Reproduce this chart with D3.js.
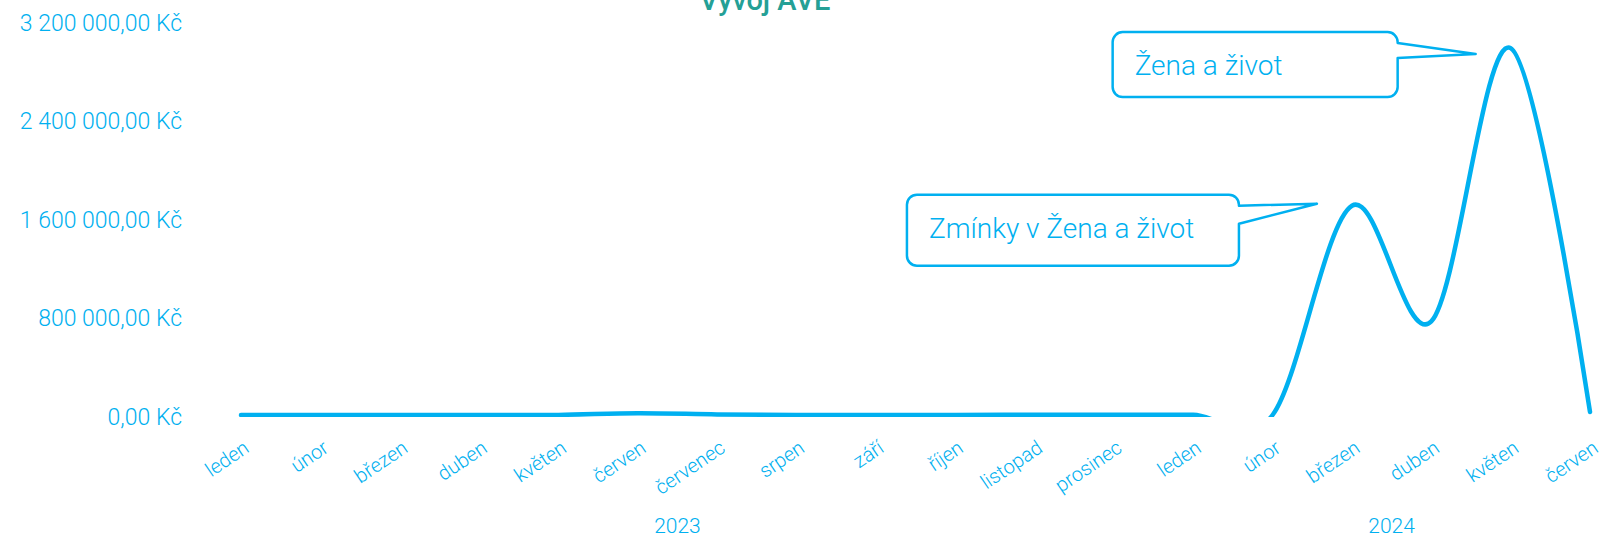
<!DOCTYPE html>
<html>
<head>
<meta charset="utf-8">
<script src="https://cdn.jsdelivr.net/npm/d3@7"></script>
<style>
  body { margin: 0; background: #fff; }
  text { font-family: Roboto, "Open Sans", sans-serif; }
</style>
</head>
<body>
<script>
const width = 1601,
      height = 541;

// months on the x axis (2023 + first half of 2024)
const months = ["leden", "únor", "březen", "duben", "květen", "červen", "červenec", "srpen",
                "září", "říjen", "listopad", "prosinec",
                "leden", "únor", "březen", "duben", "květen", "červen"];
const years = ["2023", "2024"];
const yearFirst = [0, 12];
const yearLast = [11, 17];

// AVE in Kč per month
const ave = [0, 0, 0, 0, 1000, 14000, 5000, 1000, 0, 0, 2000, 3000,
             2000, 0, 1700000, 760000, 2980000, 25000];

const yTicks = [0, 800000, 1600000, 2400000, 3200000];

// callouts
const calloutText = ["Zmínky v Žena a život", "Žena a život"];
const calloutIndex = [14, 16];

const blue = "#00b0f0";

const svg = d3.select("body")
    .append("svg")
    .attr("width", width)
    .attr("height", height);

const x = d3.scalePoint()
    .domain(d3.range(months.length))
    .range([241, 1590]);

const y = d3.scaleLinear()
    .domain([0, 3200000])
    .range([415, 21]);

const cz = d3.formatLocale({decimal: ",", thousands: " ", grouping: [3], currency: ["", " Kč"]});
const fmt = cz.format(",.2f");

// title (sits half off the top edge)
svg.append("text")
    .attr("x", 765)
    .attr("y", 10)
    .attr("text-anchor", "middle")
    .attr("fill", "#24a096")
    .attr("font-size", 29)
    .attr("font-weight", 500)
    .text("Vývoj AVE");

// y axis
const yAxis = svg.append("g")
    .attr("transform", "translate(190,0)")
    .call(d3.axisLeft(y)
      .tickValues(yTicks)
      .tickSize(0)
      .tickPadding(8)
      .tickFormat(d => fmt(d) + " Kč"));
yAxis.select(".domain").remove();
yAxis.selectAll("text")
    .attr("fill", blue)
    .attr("font-size", 23)
    .attr("font-weight", 300)
    .attr("dy", "0.4em")
    .style("font-family", "Roboto");

// x axis
const xAxis = svg.append("g")
    .attr("transform", "translate(0,415)")
    .call(d3.axisBottom(x)
      .tickSize(0)
      .tickFormat(i => months[i]));
xAxis.select(".domain").remove();
xAxis.selectAll("text")
    .attr("fill", blue)
    .attr("font-size", 20)
    .attr("font-weight", 300)
    .style("font-family", "Roboto")
    .attr("text-anchor", "end")
    .attr("x", 9)
    .attr("y", 36)
    .attr("dy", 0)
    .attr("transform", "rotate(-34,9,36)");

// year labels
svg.append("g")
  .selectAll("text")
  .data(years)
  .enter().append("text")
    .attr("x", (d, i) => (x(yearFirst[i]) + x(yearLast[i])) / 2)
    .attr("y", 533)
    .attr("text-anchor", "middle")
    .attr("fill", blue)
    .attr("font-size", 21)
    .attr("font-weight", 300)
    .text(d => d);

// line, clipped at zero
svg.append("clipPath")
    .attr("id", "plot")
  .append("rect")
    .attr("x", 0)
    .attr("y", 0)
    .attr("width", width)
    .attr("height", 417);

const line = d3.line()
    .x((d, i) => x(i))
    .y(d => y(d))
    .curve(d3.curveCardinal);

svg.append("path")
    .datum(ave)
    .attr("clip-path", "url(#plot)")
    .attr("fill", "none")
    .attr("stroke", blue)
    .attr("stroke-width", 4.5)
    .attr("stroke-linecap", "round")
    .attr("d", line);

// callout boxes with a pointer to the point
const boxW = [332, 285],
      boxH = [71, 65],
      tipOff = [-2, 6],
      boxTopOff = [-9, -22];

const calloutPath = (l, t, w, h, tx, ty, a1, a2) => {
  const r = 10, rgt = l + w, b = t + h;
  return `M${l + r},${t}H${rgt - r}A${r},${r} 0 0 1 ${rgt},${t + r}` +
         `V${t + a1}L${tx},${ty}L${rgt},${t + a2}` +
         `V${b - r}A${r},${r} 0 0 1 ${rgt - r},${b}H${l + r}` +
         `A${r},${r} 0 0 1 ${l},${b - r}V${t + r}A${r},${r} 0 0 1 ${l + r},${t}Z`;
};

const callouts = svg.append("g")
  .selectAll("g")
  .data(calloutText)
  .enter().append("g");

callouts.append("path")
    .attr("fill", "#fff")
    .attr("stroke", blue)
    .attr("stroke-width", 2.5)
    .attr("stroke-linejoin", "round")
    .attr("d", (d, i) => {
      const tx = x(calloutIndex[i]) - 35,
            ty = y(ave[calloutIndex[i]]) + tipOff[i],
            rgt = tx - 78,
            top = ty + boxTopOff[i];
      return calloutPath(rgt - boxW[i], top, boxW[i], boxH[i], tx, ty, 11, i ? 26 : 29);
    });

callouts.append("text")
    .attr("x", (d, i) => x(calloutIndex[i]) - 35 - 78 - boxW[i] + 22)
    .attr("y", (d, i) => y(ave[calloutIndex[i]]) + tipOff[i] + boxTopOff[i] + 43)
    .attr("fill", blue)
    .attr("font-size", 28)
    .attr("font-weight", 300)
    .text(d => d);
</script>
</body>
</html>
